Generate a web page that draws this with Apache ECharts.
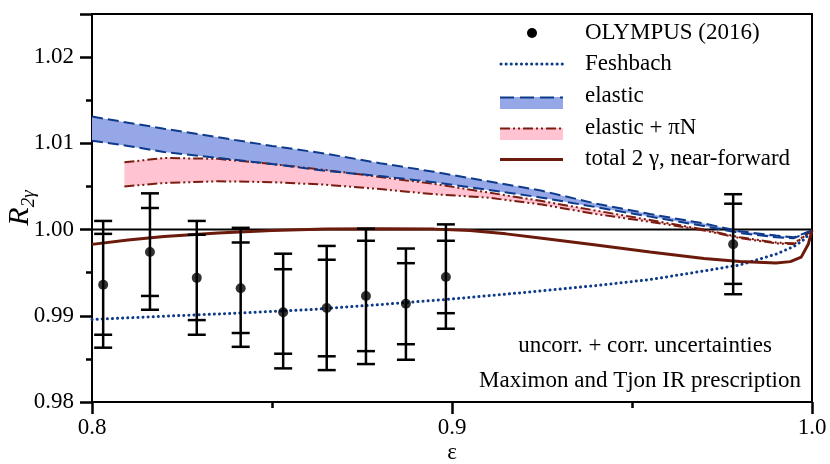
<!DOCTYPE html>
<html><head><meta charset="utf-8">
<script src="https://cdn.jsdelivr.net/npm/echarts@6/dist/echarts.min.js"></script>
<style>html,body{margin:0;padding:0;background:#fff}#c{width:830px;height:464px}</style>
</head><body><div id="c"></div>
<script>
// ---------- data ----------
const xTicks = [0.8, 0.9, 1.0];
const yTicks = [0.98, 0.99, 1.00, 1.01, 1.02];

// OLYMPUS (2016) points: epsilon, R, inner (uncorr.) low/high, outer (total) low/high
const olyEps   = [0.8031, 0.8161, 0.8291, 0.8413, 0.8531, 0.8652, 0.8761, 0.8872, 0.8983, 0.9781];
const olyR     = [0.9936, 0.9974, 0.9944, 0.9932, 0.9904, 0.9909, 0.9923, 0.9914, 0.9945, 0.9983];
const olyInLo  = [0.9878, 0.9923, 0.9895, 0.9880, 0.9856, 0.9853, 0.9859, 0.9867, 0.9903, 0.9937];
const olyInHi  = [0.9995, 1.0025, 0.9994, 0.9985, 0.9954, 0.9965, 0.9987, 0.9961, 0.9987, 1.0030];
const olyOutLo = [0.9863, 0.9907, 0.9878, 0.9864, 0.9839, 0.9837, 0.9844, 0.9849, 0.9885, 0.9925];
const olyOutHi = [1.0010, 1.0042, 1.0010, 1.0002, 0.9972, 0.9981, 1.0001, 0.9978, 1.0006, 1.0041];

// Feshbach
const feshEps = [0.800, 0.820, 0.840, 0.860, 0.880, 0.900, 0.920, 0.940, 0.955, 0.970, 0.980, 0.990, 0.995, 0.998, 1.000];
const feshR   = [0.98957, 0.98995, 0.99030, 0.99070, 0.99130, 0.99195, 0.99270, 0.99350, 0.99420, 0.99520, 0.99590, 0.99715, 0.99805, 0.99890, 1.00000];

// elastic band
const elEps   = [0.800, 0.810, 0.820, 0.835, 0.850, 0.865, 0.880, 0.895, 0.910, 0.925, 0.940, 0.955, 0.970, 0.980, 0.990, 0.995, 1.000];
const elUpper = [1.0131, 1.0124, 1.0117, 1.0107, 1.0097, 1.0088, 1.0077, 1.0067, 1.0056, 1.0045, 1.0030, 1.0018, 1.0007, 0.9998, 0.9993, 0.9991, 0.9999];
const elLower = [1.0103, 1.0097, 1.0090, 1.0083, 1.0076, 1.0068, 1.0062, 1.0055, 1.0046, 1.0037, 1.0026, 1.0015, 1.0004, 0.9996, 0.9991, 0.9990, 0.9999];

// elastic + piN band
const piEps   = [0.809, 0.820, 0.835, 0.850, 0.865, 0.880, 0.895, 0.910, 0.925, 0.940, 0.955, 0.970, 0.980, 0.990, 0.995, 1.000];
const piUpper = [1.0078, 1.0083, 1.0082, 1.0076, 1.0069, 1.0061, 1.0053, 1.0043, 1.0033, 1.0022, 1.0011, 1.0000, 0.9991, 0.9985, 0.9984, 0.9999];
const piLower = [1.0050, 1.0054, 1.0056, 1.0055, 1.0052, 1.0047, 1.0041, 1.0037, 1.0029, 1.0018, 1.0009, 0.9999, 0.9990, 0.9984, 0.9983, 0.9999];

// total 2 gamma, near-forward
const nfEps = [0.800, 0.810, 0.820, 0.835, 0.850, 0.865, 0.880, 0.895, 0.905, 0.915, 0.925, 0.940, 0.955, 0.970, 0.980, 0.990, 0.994, 0.997, 0.999, 1.000];
const nfR   = [0.99828, 0.99880, 0.99920, 0.99960, 0.99990, 1.00005, 1.00010, 1.00005, 0.99990, 0.99950, 0.99900, 0.99820, 0.99740, 0.99665, 0.99630, 0.99612, 0.99628, 0.99680, 0.99833, 0.99990];

// reference line
const refEps = [0.8, 1.0];
const refR   = [1.0, 1.0];

// ---------- styles ----------
const FONT = "'Liberation Serif', 'Times New Roman', serif";
const BLUE = '#0d3a8a';
const BLUE_FILL = '#95a7e6';
const PINK_FILL = '#ffc3d1';
const RED = '#7a1c10';
const NF = '#6b1a0b';

const zip = (a, b) => a.map((v, i) => [v, b[i]]);

function bandSeries(eps, up, lo, fill, z) {
  const data = eps.map((e, i) => [e, up[i], lo[i]]);
  return {
    type: 'custom', z: z, silent: true, clip: true,
    data: data,
    encode: { x: 0, y: [1, 2] },
    renderItem: function (params, api) {
      if (params.dataIndex !== 0) return null;
      const pts = [];
      for (let i = 0; i < data.length; i++) pts.push(api.coord([data[i][0], data[i][1]]));
      for (let i = data.length - 1; i >= 0; i--) pts.push(api.coord([data[i][0], data[i][2]]));
      return { type: 'polygon', shape: { points: pts }, style: { fill: fill } };
    }
  };
}

function lineSeries(eps, vals, style, z) {
  return {
    type: 'line', data: zip(eps, vals), symbol: 'none', z: z, silent: true,
    lineStyle: style, clip: true
  };
}

const errData = olyEps.map((e, i) => [e, olyR[i], olyInLo[i], olyInHi[i], olyOutLo[i], olyOutHi[i]]);

const txt = (s) => ({ text: s, font: '23px ' + FONT, fill: '#000', verticalAlign: 'middle' });

const option = {
  animation: false,
  backgroundColor: '#fff',
  grid: { left: 92, right: 18, top: 14, bottom: 62, show: true, borderColor: '#000', borderWidth: 2,
          containLabel: false, outerBoundsMode: 'none' },
  xAxis: {
    type: 'value', min: 0.8, max: 1.0, interval: 0.1,
    axisLine: { lineStyle: { color: '#000', width: 2 } },
    axisTick: { show: true, inside: false, length: 12, lineStyle: { color: '#000', width: 2.5 } },
    minorTick: { show: true, splitNumber: 2, length: 6, lineStyle: { color: '#000', width: 2.5 } },
    splitLine: { show: false },
    axisLabel: { color: '#000', fontFamily: FONT, fontSize: 23, margin: 14,
      formatter: v => { const t = xTicks.find(k => Math.abs(k - v) < 1e-9); return t === undefined ? '' : t.toFixed(1); } },
    name: 'ε', nameLocation: 'middle', nameGap: 39, nameMoveOverlap: false,
    nameTextStyle: { color: '#000', fontFamily: FONT, fontSize: 23 }
  },
  yAxis: {
    type: 'value', min: 0.98, max: 1.025, interval: 0.01,
    axisLine: { lineStyle: { color: '#000', width: 2 } },
    axisTick: { show: true, inside: false, length: 12, lineStyle: { color: '#000', width: 2.5 } },
    minorTick: { show: true, splitNumber: 2, length: 6, lineStyle: { color: '#000', width: 2.5 } },
    splitLine: { show: false },
    axisLabel: { color: '#000', fontFamily: FONT, fontSize: 23, margin: 18,
      formatter: v => { const t = yTicks.find(k => Math.abs(k - v) < 1e-9); return t === undefined ? '' : t.toFixed(2); } },
    name: '{r|R}{s|2γ}', nameLocation: 'middle', nameRotate: 90, nameGap: 54, nameMoveOverlap: false,
    nameTextStyle: {
      color: '#000', fontFamily: FONT,
      rich: {
        r: { fontFamily: FONT, fontStyle: 'italic', fontSize: 30, color: '#000' },
        s: { fontFamily: FONT, fontStyle: 'italic', fontSize: 19, color: '#000', padding: [16, 0, 0, 0] }
      }
    }
  },
  series: [
    bandSeries(piEps, piUpper, piLower, PINK_FILL, 1),
    bandSeries(elEps, elUpper, elLower, BLUE_FILL, 2),
    lineSeries(refEps, refR, { color: '#000', width: 2 }, 3),
    lineSeries(piEps, piUpper, { color: RED, width: 2, type: [10, 3, 2, 3, 2, 3] }, 4),
    lineSeries(piEps, piLower, { color: RED, width: 2, type: [10, 3, 2, 3, 2, 3] }, 4),
    lineSeries(elEps, elUpper, { color: BLUE, width: 2, type: [11, 5] }, 5),
    lineSeries(elEps, elLower, { color: BLUE, width: 2, type: [11, 5] }, 5),
    lineSeries(feshEps, feshR, { color: BLUE, width: 3, type: [0.1, 5], cap: 'round' }, 6),
    lineSeries(nfEps, nfR, { color: NF, width: 3 }, 7),
    {
      type: 'custom', z: 8, silent: true, data: errData,
      encode: { x: 0, y: [1, 4, 5] },
      renderItem: function (params, api) {
        const x = api.value(0);
        const c = api.coord([x, api.value(1)]);
        const yi1 = api.coord([x, api.value(2)])[1];
        const yi2 = api.coord([x, api.value(3)])[1];
        const yo1 = api.coord([x, api.value(4)])[1];
        const yo2 = api.coord([x, api.value(5)])[1];
        const hw = 9;
        const st = { stroke: '#000', lineWidth: 2.5 };
        const cap = y => ({ type: 'line', shape: { x1: c[0] - hw, y1: y, x2: c[0] + hw, y2: y }, style: st });
        return { type: 'group', children: [
          { type: 'line', shape: { x1: c[0], y1: yo1, x2: c[0], y2: yo2 }, style: st },
          cap(yi1), cap(yi2), cap(yo1), cap(yo2)
        ] };
      }
    },
    {
      type: 'scatter', z: 9, silent: true, data: zip(olyEps, olyR),
      symbol: 'circle', symbolSize: 10, itemStyle: { color: '#000' }
    }
  ],
  graphic: [
    // legend
    { type: 'circle', shape: { cx: 532, cy: 33, r: 5 }, style: { fill: '#000' } },
    { type: 'text', x: 585, y: 33, style: txt('OLYMPUS (2016)') },
    { type: 'line', shape: { x1: 501, y1: 64, x2: 563, y2: 64 }, style: { stroke: BLUE, lineWidth: 3, lineDash: [0.1, 5], lineCap: 'round' } },
    { type: 'text', x: 585, y: 64, style: txt('Feshbach') },
    { type: 'rect', shape: { x: 500, y: 97, width: 63, height: 12 }, style: { fill: BLUE_FILL } },
    { type: 'line', shape: { x1: 500, y1: 97.5, x2: 563, y2: 97.5 }, style: { stroke: BLUE, lineWidth: 2, lineDash: [14, 6] } },
    { type: 'text', x: 585, y: 96, style: txt('elastic') },
    { type: 'rect', shape: { x: 500, y: 128, width: 63, height: 12 }, style: { fill: PINK_FILL } },
    { type: 'line', shape: { x1: 500, y1: 128.5, x2: 563, y2: 128.5 }, style: { stroke: RED, lineWidth: 2, lineDash: [10, 3, 2, 3, 2, 3] } },
    { type: 'text', x: 585, y: 128, style: txt('elastic + πN') },
    { type: 'line', shape: { x1: 500, y1: 159.5, x2: 563, y2: 159.5 }, style: { stroke: NF, lineWidth: 3 } },
    { type: 'text', x: 585, y: 159, style: txt('total 2 γ, near-forward') },
    // annotation
    { type: 'text', x: 645, y: 346, style: Object.assign(txt('uncorr. + corr. uncertainties'), { align: 'center' }) },
    { type: 'text', x: 640, y: 381, style: Object.assign(txt('Maximon and Tjon IR prescription'), { align: 'center' }) }
  ]
};

const chart = echarts.init(document.getElementById('c'), null, { renderer: 'canvas' });
chart.setOption(option);
</script></body></html>
